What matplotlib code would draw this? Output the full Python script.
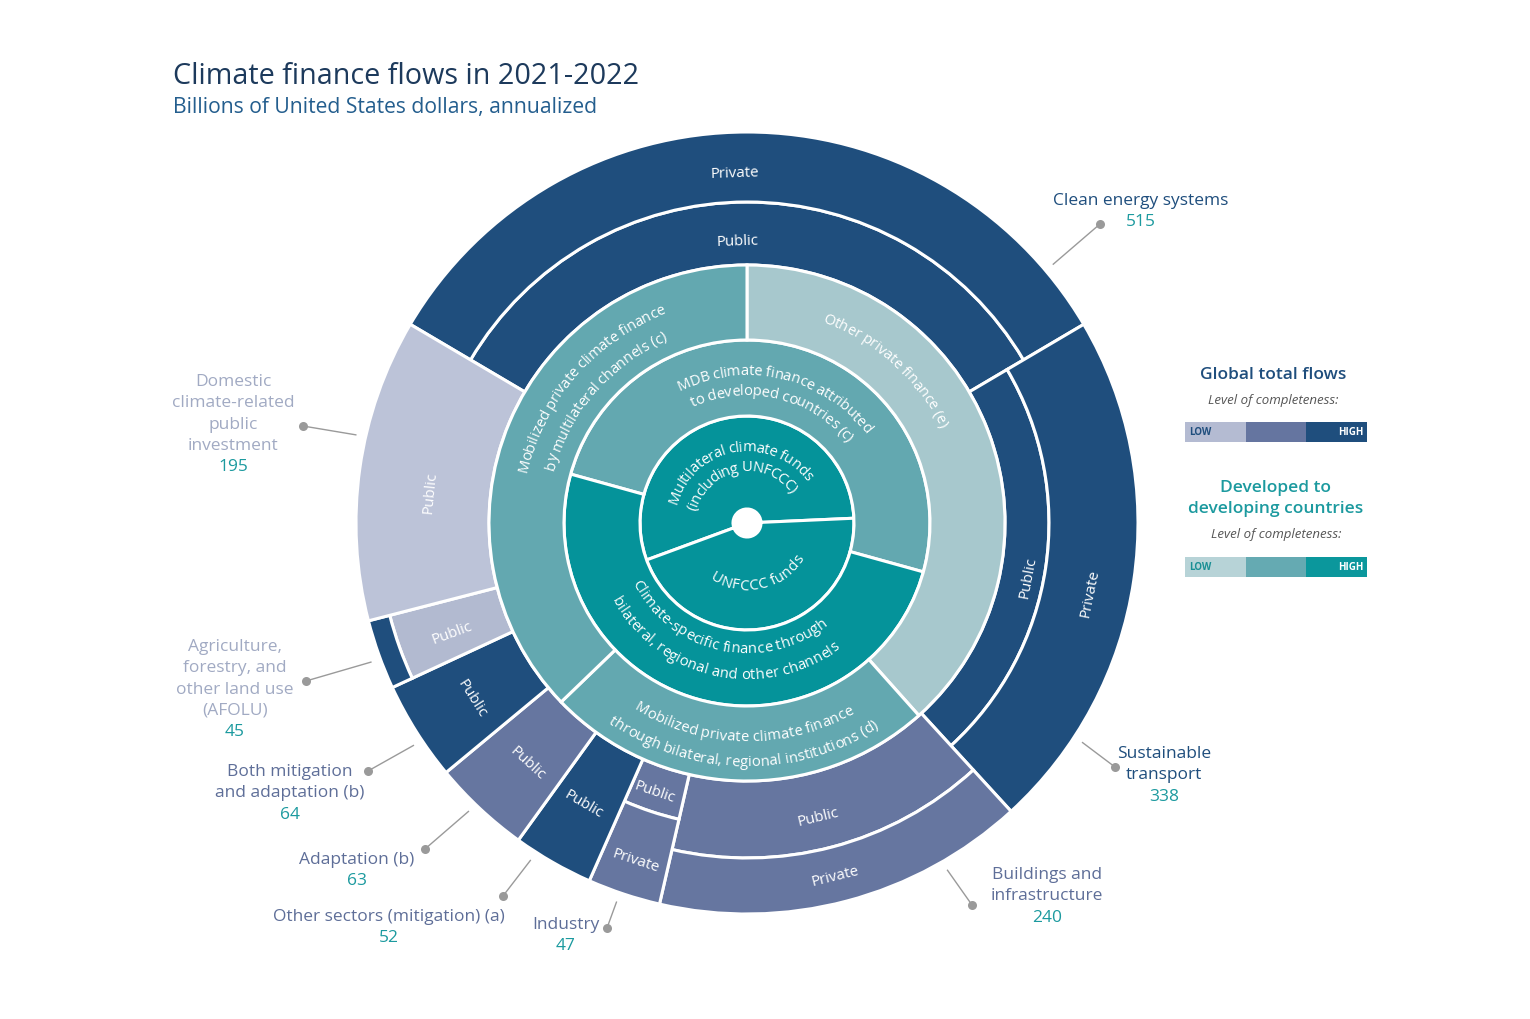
import numpy as np
import matplotlib
matplotlib.use("Agg")
import matplotlib.pyplot as plt
from matplotlib.patches import Wedge, Circle, Rectangle
from matplotlib.textpath import TextToPath
from matplotlib.font_manager import FontProperties

FONT = "Open Sans"
plt.rcParams["font.family"] = [FONT, "DejaVu Sans"]

# ---- data -------------------------------------------------------------
# global total flows (outer ring), clockwise from the top
sectors = ["Clean energy systems", "Sustainable\ntransport", "Buildings and\ninfrastructure",
           "Industry", "Other sectors (mitigation) (a)", "Adaptation (b)",
           "Both mitigation\nand adaptation (b)",
           "Agriculture,\nforestry, and\nother land use\n(AFOLU)",
           "Domestic\nclimate-related\npublic\ninvestment"]
sector_values = [515, 338, 240, 47, 52, 63, 64, 45, 195]
sector_layers = [["Public", "Private"], ["Public", "Private"], ["Public", "Private"],
                 ["Public", "Private"], ["Public"], ["Public"], ["Public"],
                 ["Public", ""], ["Public"]]
sector_levels = [["high", "high"], ["high", "high"], ["mid", "mid"], ["mid", "mid"],
                 ["high"], ["mid"], ["high"], ["low2", "high"], ["low"]]
sector_group = ["high", "high", "mid", "mid", "mid", "mid", "mid", "low", "low"]

# developed to developing countries (inner rings), shares in percent
ring1_labels = [["Multilateral climate funds", "(including UNFCCC)"], ["UNFCCC funds"]]
ring1_shares = [54.9, 45.1]
ring1_levels = ["high", "high"]
ring2_labels = [["MDB climate finance attributed", "to developed countries (c)"],
                ["Climate-specific finance through", "bilateral, regional and other channels"]]
ring2_shares = [50.0, 50.0]
ring2_levels = ["mid", "high"]
ring3_labels = [["Other private finance (e)"],
                ["Mobilized private climate finance", "through bilateral, regional institutions (d)"],
                ["Mobilized private climate finance", "by multilateral channels (c)"]]
ring3_shares = [38.4, 24.4, 37.2]
ring3_levels = ["low", "mid", "mid"]

# ---- layout / style ---------------------------------------------------
CX, CY = 747, 524
R_HOLE, R1, R2, R3, R_OUT = 14, 107, 183, 258, 391
split_r = [321, 302, 335, 304, None, None, None, 369, None]
ring_starts = [249.8, 285.5, 0.0]
LW = 2.2
PX = 100 / 72

GLOBAL_COLORS = {"low": "#BCC3D8", "low2": "#B2BAD0", "mid": "#6676A0", "high": "#1F4E7D"}
DEV_COLORS = {"low": "#A7C8CD", "mid": "#63A8B0", "high": "#05939A"}
NAME_COLORS = {"high": "#1F4E7D", "mid": "#5E6E98", "low": "#A1AAC3"}
VALUE_COLOR = "#1C9A9F"

# (theta, radius) of the Public / Private labels in the outer ring
layer_pos = [[(-2, 282), (-2, 351)], [(100.8, 286), (101.5, 350)], [(166.4, 302), (166, 364)],
             [(198.9, 284), (198.2, 355)], [(210.3, 325)], [(222.6, 325)], [(237.6, 326)],
             [(249.7, 314), None], [(275.6, 318)]]
radial_label = [[False, False]] * 7 + [[True, False], [False]]

# (theta, [radii of each line], upper) of the inner-ring labels
ring1_pos = [(-10, [78, 58], True), (168, [61], False)]
ring2_pos = [(13, [154, 134], True), (192, [124, 150], False)]
ring3_pos = [(42, [221], True), (181, [212, 237], False), (311, [231, 206], True)]

# leader lines: start angle (at r=400), dot position, label anchor
leader_theta = [49.8, 123.2, 150, 199, 212.7, 224, 236.3, 249.7, 282.7]
leader_dot = [(1100, 225), (1115, 768), (972, 906), (607, 929), (503, 897),
              (425, 850), (368, 772), (306, 682), (303, 427)]
label_xy = [(1141, 201), (1164, 754), (1047, 875), (566, 925), (389, 917),
            (357, 860), (290, 772), (235, 647), (233, 382)]
LINE_H = 21.3

fig = plt.figure(figsize=(15.3, 10.2), dpi=100)
ax = fig.add_axes([0, 0, 1, 1])
ax.set_xlim(0, 1530)
ax.set_ylim(1020, 0)
ax.axis("off")

ttp = TextToPath()


def advance(ch, prop):
    w1 = ttp.get_text_width_height_descent("x" + ch + "x", prop, ismath=False)[0]
    w0 = ttp.get_text_width_height_descent("xx", prop, ismath=False)[0]
    return (w1 - w0) * PX


def polar(theta, r):
    t = np.radians(theta)
    return CX + r * np.sin(t), CY - r * np.cos(t)


def tangent_rot(theta):
    rot = (-theta) % 360
    if rot > 180:
        rot -= 360
    if rot > 90:
        rot -= 180
    elif rot <= -90:
        rot += 180
    return rot


def arc_text(s, r_mid, theta, size=10.6, upper=True, color="white"):
    prop = FontProperties(family=FONT, size=size)
    advs = [advance(c, prop) for c in s]
    fs = size * PX
    rb = r_mid - 0.36 * fs if upper else r_mid + 0.36 * fs
    pos = -sum(advs) / 2
    for c, a in zip(s, advs):
        off = pos + a / 2
        pos += a
        if c == " ":
            continue
        d = np.degrees(off / r_mid)
        th = theta + d if upper else theta - d
        x, y = polar(th, rb)
        rot = -th if upper else 180 - th
        ax.text(x, y, c, rotation=rot, rotation_mode="anchor", ha="center",
                va="baseline", fontsize=size, color=color)


def wedge(t1, t2, r_in, r_out, fc):
    ax.add_patch(Wedge((CX, CY), r_out, t1 - 90, t2 - 90, width=r_out - r_in,
                       fc=fc, ec="white", lw=LW))


# ---- outer ring: global flows ------------------------------------------
total = sum(sector_values)
start = -sector_values[0] / total * 180
edges = start + np.concatenate([[0], np.cumsum(sector_values)]) / total * 360
for i in range(len(sectors)):
    t1, t2 = edges[i], edges[i + 1]
    radii = [R3] + ([split_r[i]] if split_r[i] else []) + [R_OUT]
    for j, (lab, lev) in enumerate(zip(sector_layers[i], sector_levels[i])):
        wedge(t1, t2, radii[j], radii[j + 1], GLOBAL_COLORS[lev])
        if lab and layer_pos[i][j]:
            th, r = layer_pos[i][j]
            x, y = polar(th, r)
            rot = tangent_rot(th + 90) if radial_label[i][j] else tangent_rot(th)
            ax.text(x, y, lab, rotation=rot, rotation_mode="anchor", ha="center",
                    va="center", fontsize=10.8, color="white")

# ---- inner rings: developed to developing countries --------------------
for labels, shares, levels, pos, st, (r_in, r_out) in [
        (ring1_labels, ring1_shares, ring1_levels, ring1_pos, ring_starts[0], (R_HOLE, R1)),
        (ring2_labels, ring2_shares, ring2_levels, ring2_pos, ring_starts[1], (R1, R2)),
        (ring3_labels, ring3_shares, ring3_levels, ring3_pos, ring_starts[2], (R2, R3))]:
    e = st + np.concatenate([[0], np.cumsum(shares)]) / 100 * 360
    for k in range(len(shares)):
        wedge(e[k], e[k + 1], r_in, r_out, DEV_COLORS[levels[k]])
    for k in range(len(shares)):
        th, rs, upper = pos[k]
        for line, r in zip(labels[k], rs):
            arc_text(line, r, th, upper=upper)

ax.add_patch(Circle((CX, CY), R_HOLE, fc="white", ec="none", zorder=5))

# ---- leader lines and sector labels ------------------------------------
for i, name in enumerate(sectors):
    x0, y0 = polar(leader_theta[i], 401)
    x1, y1 = leader_dot[i]
    ax.plot([x0, x1], [y0, y1], color="#9A9A9A", lw=1.0)
    ax.plot(x1, y1, "o", color="#9A9A9A", ms=6.5, mec="none")
    lx, ly = label_xy[i]
    lines = name.split("\n")
    for k, line in enumerate(lines):
        ax.text(lx, ly + k * LINE_H, line, ha="center", va="center", fontsize=12.5,
                color=NAME_COLORS[sector_group[i]])
    ax.text(lx, ly + len(lines) * LINE_H, str(sector_values[i]), ha="center",
            va="center", fontsize=12.5, color=VALUE_COLOR)

# ---- title -------------------------------------------------------------
ax.text(173, 77, "Climate finance flows in 2021-2022", fontsize=20.7, color="#1D3A5C",
        ha="left", va="center")
ax.text(173, 107, "Billions of United States dollars, annualized", fontsize=15.2,
        color="#245E8E", ha="left", va="center")

# ---- legend ------------------------------------------------------------
def legend_bar(y, colors, low_color):
    w = (1367 - 1185) / 3
    for k, c in enumerate(colors):
        ax.add_patch(Rectangle((1185 + k * w, y), w, 20, fc=c, ec="none"))
    ax.text(1189, y + 10, "LOW", fontsize=7, color=low_color, ha="left", va="center",
            fontweight="bold")
    ax.text(1364, y + 10, "HIGH", fontsize=7, color="white", ha="right", va="center",
            fontweight="bold")


ax.text(1273, 375, "Global total flows", fontsize=12.5, color="#1F4E7D", ha="center",
        va="center", fontweight="semibold")
ax.text(1273, 401, "Level of completeness:", fontsize=9.5, color="#555555", ha="center",
        va="center", style="italic")
legend_bar(423, ["#B4BBD2", "#6575A0", "#1F4E7D"], "#1F4E7D")

ax.text(1276, 488, "Developed to", fontsize=12.5, color="#1C9A9F", ha="center", va="center",
        fontweight="semibold")
ax.text(1276, 509, "developing countries", fontsize=12.5, color="#1C9A9F", ha="center",
        va="center", fontweight="semibold")
ax.text(1276, 535, "Level of completeness:", fontsize=9.5, color="#555555", ha="center",
        va="center", style="italic")
legend_bar(558, ["#B7D3D7", "#65AAB2", "#0B979C"], "#1A8F95")

fig.savefig("out.png", dpi=100)
